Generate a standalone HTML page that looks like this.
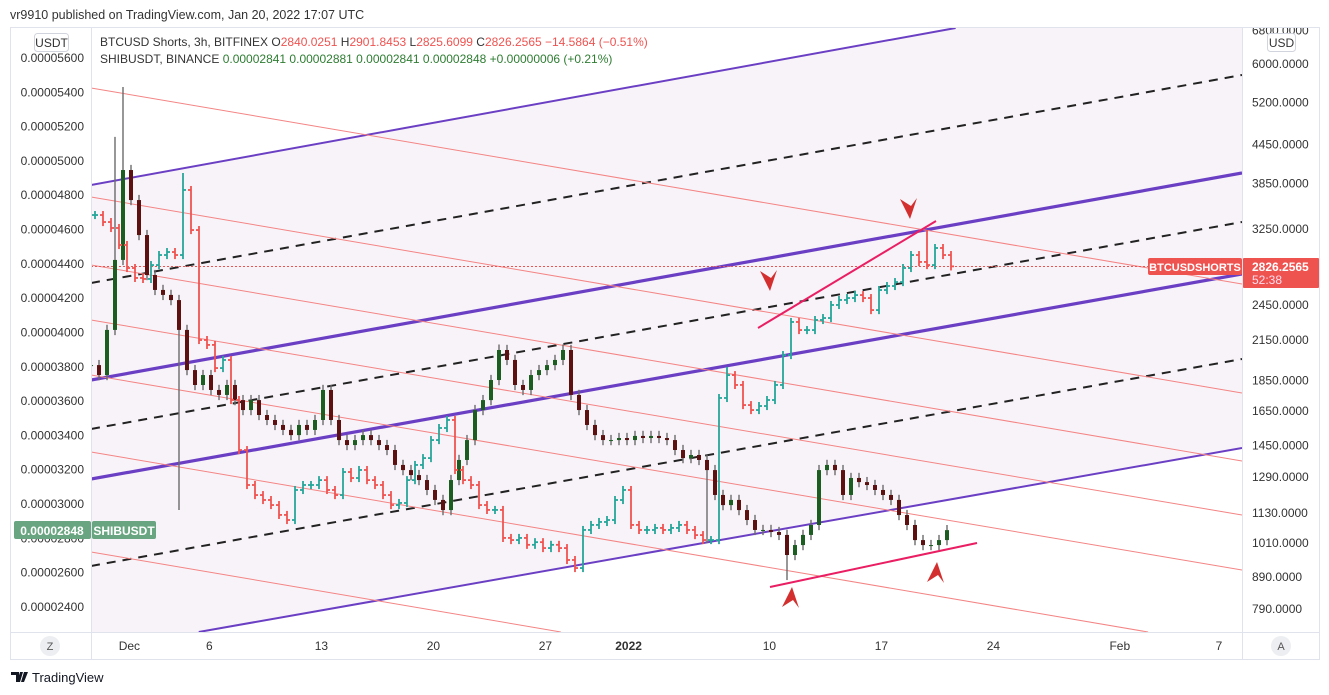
<!DOCTYPE html>
<html><head><meta charset="utf-8">
<style>
html,body{margin:0;padding:0;background:#fff;width:1329px;height:695px;overflow:hidden}
svg{display:block;font-family:"Liberation Sans",sans-serif}
</style></head>
<body>
<svg id="chart" width="1329" height="695" viewBox="0 0 1329 695">
  <text x="10" y="19" font-size="12.5" fill="#333">vr9910 published on TradingView.com, Jan 20, 2022 17:07 UTC</text>
  <rect x="10.5" y="27.5" width="1309" height="632" fill="#fff" stroke="#e0e3eb"/>
  <defs><clipPath id="plotclip"><rect x="91" y="28" width="1151" height="604"/></clipPath>
  <clipPath id="raclip"><rect x="1243" y="28" width="76" height="604"/></clipPath></defs>
  <g id="plot" clip-path="url(#plotclip)"></g>
  <line x1="91.5" y1="28" x2="91.5" y2="659" stroke="#e0e3eb"/>
  <line x1="1242.5" y1="28" x2="1242.5" y2="659" stroke="#e0e3eb"/>
  <line x1="11" y1="632.5" x2="1319" y2="632.5" stroke="#e0e3eb"/>
  <g id="leftaxis"></g>
  <g id="rightaxis" clip-path="url(#raclip)"></g>
  <g id="timeaxis"></g>
  <g><rect x="34.5" y="33.5" width="34" height="18" rx="3" fill="#fff" stroke="#d1d4dc"/><text x="51.5" y="47" font-size="12" text-anchor="middle" fill="#333">USDT</text></g>
  <g><rect x="1267.5" y="33.5" width="28" height="18" rx="3" fill="#fff" stroke="#d1d4dc"/><text x="1281.5" y="47" font-size="12" text-anchor="middle" fill="#333">USD</text></g>
  <g font-size="12">
    <text x="100" y="46" fill="#333">BTCUSD Shorts, 3h, BITFINEX  O<tspan fill="#ef5350">2840.0251</tspan>  H<tspan fill="#ef5350">2901.8453</tspan>  L<tspan fill="#ef5350">2825.6099</tspan>  C<tspan fill="#ef5350">2826.2565  −14.5864 (−0.51%)</tspan></text>
    <text x="100" y="63" fill="#333">SHIBUSDT, BINANCE  <tspan fill="#2e7d32">0.00002841  0.00002881  0.00002841  0.00002848  +0.00000006 (+0.21%)</tspan></text>
  </g>
  <g>
    <rect x="1148" y="258" width="94" height="17" rx="2" fill="#ef5350"/><text x="1195" y="271" font-size="11" font-weight="bold" fill="#fff" text-anchor="middle">BTCUSDSHORTS</text>
    <rect x="1243" y="258" width="76" height="30" rx="1" fill="#ef5350"/><text x="1252" y="271" font-size="12" font-weight="bold" fill="#fff">2826.2565</text><text x="1252" y="284" font-size="12" fill="#fde">52:38</text>
  </g>
  <g>
    <rect x="14" y="521" width="77" height="18" rx="2" fill="#6aa581"/><text x="52" y="535" font-size="12" font-weight="bold" fill="#fff" text-anchor="middle">0.00002848</text>
    <rect x="92" y="521" width="64" height="18" rx="2" fill="#6aa581"/><text x="124" y="535" font-size="12" font-weight="bold" fill="#fff" text-anchor="middle">SHIBUSDT</text>
  </g>
  <g><circle cx="50" cy="646" r="10" fill="#eceef2"/><text x="50" y="650" font-size="11" text-anchor="middle" fill="#555">Z</text></g>
  <g><circle cx="1281" cy="646" r="10" fill="#eceef2"/><text x="1281" y="650" font-size="11" text-anchor="middle" fill="#555">A</text></g>
  <g>
    <path d="M11 672h8v10h-3v-7h-5z M20 672h3l-3 10h-3z M24 672h4l-4 10h-3z" fill="#131722"/>
    <text x="32" y="682" font-size="13" fill="#131722">TradingView</text>
  </g>
</svg>
<script>
// ---- data ----
const shibClose = [3810,3752,4015,4423,4947,4772,4568,4335,4248,4219,4189,4015,3781,3694,3752,3665,3636,3694,3606,3548,3606,3519,3490,3461,3432,3402,3461,3432,3490,3665,3490,3373,3344,3373,3402,3373,3344,3315,3228,3198,3169,3140,3082,3024,2965,3140,3257,3373,3548,3606,3723,3898,3840,3694,3665,3752,3781,3810,3840,3898,3636,3548,3461,3402,3373,3373,3385,3373,3397,3385,3397,3385,3373,3315,3268,3286,3257,3198,3053,2994,3024,2965,2907,2849,2849,2837,2820,2703,2761,2820,2878,3198,3228,3198,3053,3152,3128,3111,3082,3053,3024,2936,2878,2790,2761,2761,2790,2848];
const shibWickIdx = [3,4,11,77,87,51,59];
const shibWickVal = [5140,5431,2965,2773,2557,3930,3930];
const btcClose = [3421,3333,3260,3060,2809,2707,2697,2840,2948,2981,2948,3755,3235,2149,2110,1936,1995,1719,1427,1253,1207,1185,1163,1121,1100,1230,1253,1253,1276,1230,1207,1315,1286,1325,1276,1253,1207,1163,1172,1276,1350,1385,1481,1549,1596,1325,1276,1253,1163,1142,1142,1029,1021,1029,1003,1013,991,1003,991,948,920,1060,1080,1092,1100,1185,1230,1080,1060,1060,1068,1060,1068,1080,1060,1040,1021,1021,1732,1886,1818,1687,1656,1681,1719,1818,2032,2298,2230,2230,2315,2332,2448,2494,2512,2540,2512,2402,2588,2627,2666,2809,2948,2873,2840,3026,2948,2826];
const btcWickIdx = [11,79,104];
const btcWickVal = [4000,1944,3235];
const shibTicks = [5600,5400,5200,5000,4800,4600,4400,4200,4000,3800,3600,3400,3200,3000,2800,2600,2400];
const btcTicks = [6800,6000,5200,4450,3850,3250,2450,2150,1850,1650,1450,1290,1130,1010,890,790];
const timeLabels = ["Dec","6","13","20","27","2022","10","17","24","Feb","7"];
const timeDays = [2.4,7.4,14.4,21.4,28.4,33.6,42.4,49.4,56.4,64.3,70.5];

// ---- scales ----
const X0 = 91, STEP = 8;
function xIdx(i){ return X0 + STEP*i; }
function xDay(d){ return X0 + 16*d; }
function yShib(v){ return 58 + (5600 - v) * 0.17156; }
function yBtc(v){ return 64 + 268.8 * Math.log(6000 / v); }

const NS = "http://www.w3.org/2000/svg";
function mk(tag, attrs, parent){ const e = document.createElementNS(NS, tag); for (const k in attrs) e.setAttribute(k, attrs[k]); parent.appendChild(e); return e; }
const plot = document.getElementById('plot');
const TOP = 28, BOT = 632, L = 91, R = 1242;
// clip a line from (L,ya) to (R,yb) to the plot's vertical range
function seg(ya, yb){
  let x1 = L, y1 = ya, x2 = R, y2 = yb;
  const s = (yb - ya) / (R - L);
  function xAt(y){ return L + (y - ya) / s; }
  if (y1 > BOT) { x1 = xAt(BOT); y1 = BOT; }
  if (y1 < TOP) { x1 = xAt(TOP); y1 = TOP; }
  if (y2 > BOT) { x2 = xAt(BOT); y2 = BOT; }
  if (y2 < TOP) { x2 = xAt(TOP); y2 = TOP; }
  return {x1:x1, y1:y1, x2:x2, y2:y2};
}

const shade = mk('polygon', {points: "91,185 960,28 1242,28 1242,448 200,632 91,632", fill: "#f8f3f8"}, plot);



const purple = [[185,-24,2],[380,173,3.2],[479,274,3.2],[651,448,2]];
purple.forEach(function(p){
  const c = seg(p[0], p[1]);
  const l = mk('line', {x1:c.x1, y1:c.y1, x2:c.x2, y2:c.y2, stroke:"#6b3fc4", "stroke-width":p[2]}, plot);
  
  
});
[[283,75],[429,222],[566,359]].forEach(function(p){
  const l = mk('line', {x1:L, y1:p[0], x2:R, y2:p[1], stroke:"#222", "stroke-width":2, "stroke-dasharray":"9,7"}, plot);
  
  
});
[[88,284],[197,393],[265,461],[320,515],[375,570],[452,648],[552,748]].forEach(function(p){
  const c = seg(p[0], p[1]);
  const l = mk('line', {x1:c.x1, y1:c.y1, x2:c.x2, y2:c.y2, stroke:"#f48484", "stroke-width":1}, plot);
  
  
});
const dotted = mk('line', {x1:91, y1:266.5, x2:1150, y2:266.5, stroke:"#ef5350", "stroke-width":1, "stroke-dasharray":"2,2"}, plot);



// SHIB candles
shibClose.forEach(function(c, i){
  const o = i === 0 ? c : shibClose[i-1];
  let hi = Math.max(o, c) + 30, lo = Math.min(o, c) - 30;
  const w = shibWickIdx.indexOf(i);
  if (w >= 0) { hi = Math.max(hi, shibWickVal[w]); lo = Math.min(lo, shibWickVal[w]); }
  const x = xIdx(i);
  const g = mk('g', {}, plot);
  
  
  mk('line', {x1:x, y1:yShib(hi), x2:x, y2:yShib(lo), stroke:"#6b6b6b", "stroke-width":1.4}, g);
  const yt = yShib(Math.max(o,c)), yb = yShib(Math.min(o,c));
  mk('rect', {x:x-2, y:yt, width:4, height:Math.max(1, yb-yt), fill: c >= o ? "#1b5e20" : "#5d1010"}, g);
});
// BTC OHLC bars
btcClose.forEach(function(c, i){
  const o = i === 0 ? c : btcClose[i-1];
  let hi = Math.max(o, c) * 1.015, lo = Math.min(o, c) * 0.985;
  const w = btcWickIdx.indexOf(i);
  if (w >= 0) { hi = Math.max(hi, btcWickVal[w]); lo = Math.min(lo, btcWickVal[w]); }
  const x = xIdx(i) + 4;
  const col = c >= o ? "#26a69a" : "#ef5350";
  const g = mk('g', {stroke: col, "stroke-width": 1.8}, plot);
  
  
  mk('line', {x1:x, y1:yBtc(hi), x2:x, y2:yBtc(lo)}, g);
  mk('line', {x1:x-3, y1:yBtc(o), x2:x, y2:yBtc(o)}, g);
  mk('line', {x1:x, y1:yBtc(c), x2:x+3, y2:yBtc(c)}, g);
});

const t1 = mk('line', {x1:758, y1:328, x2:936, y2:221, stroke:"#e91e63", "stroke-width":2}, plot);


const t2 = mk('line', {x1:770, y1:587, x2:977, y2:543, stroke:"#e91e63", "stroke-width":2}, plot);


function arrow(cx, cy, down, name){
  const d = down ? 1 : -1;
  const p = mk('polygon', {points: (cx-10)+","+(cy-10*d)+" "+cx+","+(cy+10*d)+" "+(cx+7)+","+(cy-11*d)+" "+(cx+1)+","+(cy-3*d), fill:"#d32f2f"}, plot);
  
  
}
arrow(770, 281, true, 'arrow-down-1');
arrow(910, 209, true, 'arrow-down-2');
arrow(792, 597, false, 'arrow-up-1');
arrow(937, 572, false, 'arrow-up-2');

const la = document.getElementById('leftaxis');
shibTicks.forEach(function(v){
  const t = mk('text', {x:84, y:yShib(v)+4, "font-size":12, fill:"#333", "text-anchor":"end"}, la);
  t.textContent = (v/1e8).toFixed(8);
  
  
});
const ra = document.getElementById('rightaxis');
btcTicks.forEach(function(v){
  const t = mk('text', {x:1252, y:yBtc(v)+4, "font-size":12, fill:"#333"}, ra);
  t.textContent = v.toFixed(4);
  
  
});
const ta = document.getElementById('timeaxis');
timeLabels.forEach(function(s, k){
  const t = mk('text', {x:xDay(timeDays[k]), y:650, "font-size":12, fill:"#333", "text-anchor":"middle", "font-weight": s==="2022" ? "bold" : "normal"}, ta);
  t.textContent = s;
  
  
});
</script>
</body></html>
